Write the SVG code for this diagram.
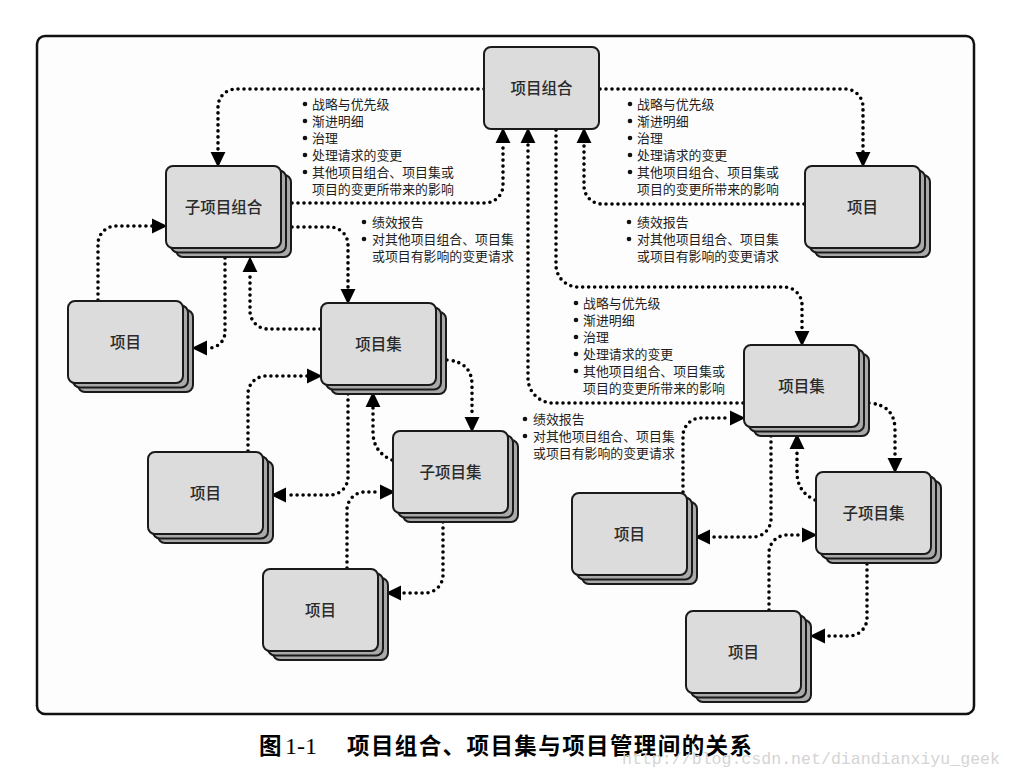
<svg xmlns="http://www.w3.org/2000/svg" xmlns:xlink="http://www.w3.org/1999/xlink" width="1012" height="779" viewBox="0 0 1012 779">
<style>
.frame{fill:#fdfdfd;stroke:#111;stroke-width:2.5}
.front{fill:#dcdcdc;stroke:#1a1a1a;stroke-width:2}
.back{fill:#a9a9a9;stroke:#1a1a1a;stroke-width:2}
.nl{font-family:"Noto Sans CJK SC","Noto Sans",sans-serif;font-size:15.5px;fill:#2a2a2a;text-anchor:middle;font-weight:500}
.lb{font-family:"Noto Sans CJK SC","Noto Sans",sans-serif;font-size:12.9px;fill:#1e1e1e}
.dot{fill:#111}
.con{fill:none;stroke:#000;stroke-width:3.6;stroke-linecap:round;stroke-dasharray:0 6;marker-end:url(#ah)}
.cap{font-family:"Noto Sans CJK SC",sans-serif;font-size:22.5px;font-weight:bold;fill:#000}
.capn{font-family:"Liberation Serif",serif;font-size:24px;fill:#000}
.wm{font-family:"Liberation Mono",monospace;font-size:17px;fill:#d4d4d4}
</style>
<defs>
<marker id="ah" markerUnits="userSpaceOnUse" markerWidth="16" markerHeight="16" refX="0" refY="6.5" orient="auto" viewBox="0 0 14 13">
<path d="M0,0 L13.5,6.5 L0,13 z" fill="#000"/>
</marker>
<g id="stack">
<rect class="back" x="10" y="9" width="115" height="82" rx="7"/>
<rect class="back" x="5" y="4.5" width="115" height="82" rx="7"/>
<rect class="front" x="0" y="0" width="115" height="82" rx="7"/>
</g>
</defs>
<rect class="frame" x="37" y="36" width="937" height="678" rx="8"/>

<g id="connectors">
<path class="con" d="M484,89 H236 A18,18 0 0 0 218,107 V152"/>
<path class="con" d="M292,203 H485 A18,18 0 0 0 503,185 V143"/>
<path class="con" d="M600,89 H845 A18,18 0 0 1 863,107 V152"/>
<path class="con" d="M804,204 H602 A18,18 0 0 1 584,186 V143"/>
<path class="con" d="M556,130 V265 A22,22 0 0 0 578,287 H784 A18,18 0 0 1 802,305 V331"/>
<path class="con" d="M743,403 H553 A25,25 0 0 1 528,378 V143"/>
<path class="con" d="M292,227 H330 A18,18 0 0 1 348,245 V289"/>
<path class="con" d="M320,329 H268 A18,18 0 0 1 250,311 V272"/>
<path class="con" d="M225,258 V332 A16,16 0 0 1 209,348 H207"/>
<path class="con" d="M98,300 V244 A18,18 0 0 1 116,226 H152"/>
<path class="con" d="M248,451 V394 A18,18 0 0 1 266,376 H307"/>
<path class="con" d="M348,394 V477 A18,18 0 0 1 330,495 H286"/>
<path class="con" d="M392,460 Q373,452 373,432 V407"/>
<path class="con" d="M447,360 Q472,362 472,385 V417"/>
<path class="con" d="M347,568 V510 A18,18 0 0 1 365,492 H380"/>
<path class="con" d="M443,522 V575 A18,18 0 0 1 425,593 H401"/>
<path class="con" d="M869,403 Q895,405 895,430 V458"/>
<path class="con" d="M683,492 V436 A18,18 0 0 1 701,418 H730"/>
<path class="con" d="M771,436 V519 A18,18 0 0 1 753,537 H710"/>
<path class="con" d="M815,500 Q797,492 797,472 V449"/>
<path class="con" d="M769,610 V553 A18,18 0 0 1 787,535 H802"/>
<path class="con" d="M867,564 V618 A18,18 0 0 1 849,636 H825"/>
</g>

<g id="n-portfolio">
<rect class="front" x="484" y="47" width="115" height="82" rx="7"/>
<text class="nl" x="541.5" y="93.5">项目组合</text>
</g>
<g id="n-subportfolio" transform="translate(166,166)">
<use xlink:href="#stack"/>
<text class="nl" x="57.5" y="46.5">子项目组合</text>
</g>
<g id="n-project-tr" transform="translate(805,166)">
<use xlink:href="#stack"/>
<text class="nl" x="57.5" y="46.5">项目</text>
</g>
<g id="n-project-l1" transform="translate(68,301)">
<use xlink:href="#stack"/>
<text class="nl" x="57.5" y="46.5">项目</text>
</g>
<g id="n-program-l" transform="translate(321,303)">
<use xlink:href="#stack"/>
<text class="nl" x="57.5" y="46.5">项目集</text>
</g>
<g id="n-subprogram-l" transform="translate(393,431)">
<use xlink:href="#stack"/>
<text class="nl" x="57.5" y="46.5">子项目集</text>
</g>
<g id="n-project-l2" transform="translate(148,452)">
<use xlink:href="#stack"/>
<text class="nl" x="57.5" y="46.5">项目</text>
</g>
<g id="n-project-l3" transform="translate(263,569)">
<use xlink:href="#stack"/>
<text class="nl" x="57.5" y="46.5">项目</text>
</g>
<g id="n-program-r" transform="translate(744,345)">
<use xlink:href="#stack"/>
<text class="nl" x="57.5" y="46.5">项目集</text>
</g>
<g id="n-subprogram-r" transform="translate(816,472)">
<use xlink:href="#stack"/>
<text class="nl" x="57.5" y="46.5">子项目集</text>
</g>
<g id="n-project-r1" transform="translate(572,493)">
<use xlink:href="#stack"/>
<text class="nl" x="57.5" y="46.5">项目</text>
</g>
<g id="n-project-r2" transform="translate(686,611)">
<use xlink:href="#stack"/>
<text class="nl" x="57.5" y="46.5">项目</text>
</g>

<g id="labels">
<g>
<circle class="dot" cx="305" cy="104" r="2.3"/><text class="lb" x="312" y="109">战略与优先级</text>
<circle class="dot" cx="305" cy="121" r="2.3"/><text class="lb" x="312" y="126">渐进明细</text>
<circle class="dot" cx="305" cy="138" r="2.3"/><text class="lb" x="312" y="143">治理</text>
<circle class="dot" cx="305" cy="155" r="2.3"/><text class="lb" x="312" y="160">处理请求的变更</text>
<circle class="dot" cx="305" cy="172" r="2.3"/><text class="lb" x="312" y="177">其他项目组合、项目集或</text>
<text class="lb" x="312" y="194">项目的变更所带来的影响</text>
</g>
<g>
<circle class="dot" cx="364" cy="222" r="2.3"/><text class="lb" x="372" y="227">绩效报告</text>
<circle class="dot" cx="364" cy="239" r="2.3"/><text class="lb" x="372" y="244">对其他项目组合、项目集</text>
<text class="lb" x="372" y="261">或项目有影响的变更请求</text>
</g>
<g>
<circle class="dot" cx="630" cy="104" r="2.3"/><text class="lb" x="637" y="109">战略与优先级</text>
<circle class="dot" cx="630" cy="121" r="2.3"/><text class="lb" x="637" y="126">渐进明细</text>
<circle class="dot" cx="630" cy="138" r="2.3"/><text class="lb" x="637" y="143">治理</text>
<circle class="dot" cx="630" cy="155" r="2.3"/><text class="lb" x="637" y="160">处理请求的变更</text>
<circle class="dot" cx="630" cy="172" r="2.3"/><text class="lb" x="637" y="177">其他项目组合、项目集或</text>
<text class="lb" x="637" y="194">项目的变更所带来的影响</text>
</g>
<g>
<circle class="dot" cx="629" cy="222" r="2.3"/><text class="lb" x="637" y="227">绩效报告</text>
<circle class="dot" cx="629" cy="239" r="2.3"/><text class="lb" x="637" y="244">对其他项目组合、项目集</text>
<text class="lb" x="637" y="261">或项目有影响的变更请求</text>
</g>
<g>
<circle class="dot" cx="576" cy="303" r="2.3"/><text class="lb" x="583" y="308">战略与优先级</text>
<circle class="dot" cx="576" cy="320" r="2.3"/><text class="lb" x="583" y="325">渐进明细</text>
<circle class="dot" cx="576" cy="337" r="2.3"/><text class="lb" x="583" y="342">治理</text>
<circle class="dot" cx="576" cy="354" r="2.3"/><text class="lb" x="583" y="359">处理请求的变更</text>
<circle class="dot" cx="576" cy="371" r="2.3"/><text class="lb" x="583" y="376">其他项目组合、项目集或</text>
<text class="lb" x="583" y="393">项目的变更所带来的影响</text>
</g>
<g>
<circle class="dot" cx="525" cy="419" r="2.3"/><text class="lb" x="533" y="424">绩效报告</text>
<circle class="dot" cx="525" cy="436" r="2.3"/><text class="lb" x="533" y="441">对其他项目组合、项目集</text>
<text class="lb" x="533" y="458">或项目有影响的变更请求</text>
</g>
</g>

<g id="caption">
<text class="cap" x="259" y="754">图</text>
<text class="capn" x="285" y="754">1-1</text>
<text class="cap" x="347" y="754" textLength="405" lengthAdjust="spacing">项目组合、项目集与项目管理间的关系</text>
</g>
<text class="wm" x="622" y="764" textLength="378" lengthAdjust="spacingAndGlyphs">http://blog.csdn.net/diandianxiyu_geek</text>
</svg>
